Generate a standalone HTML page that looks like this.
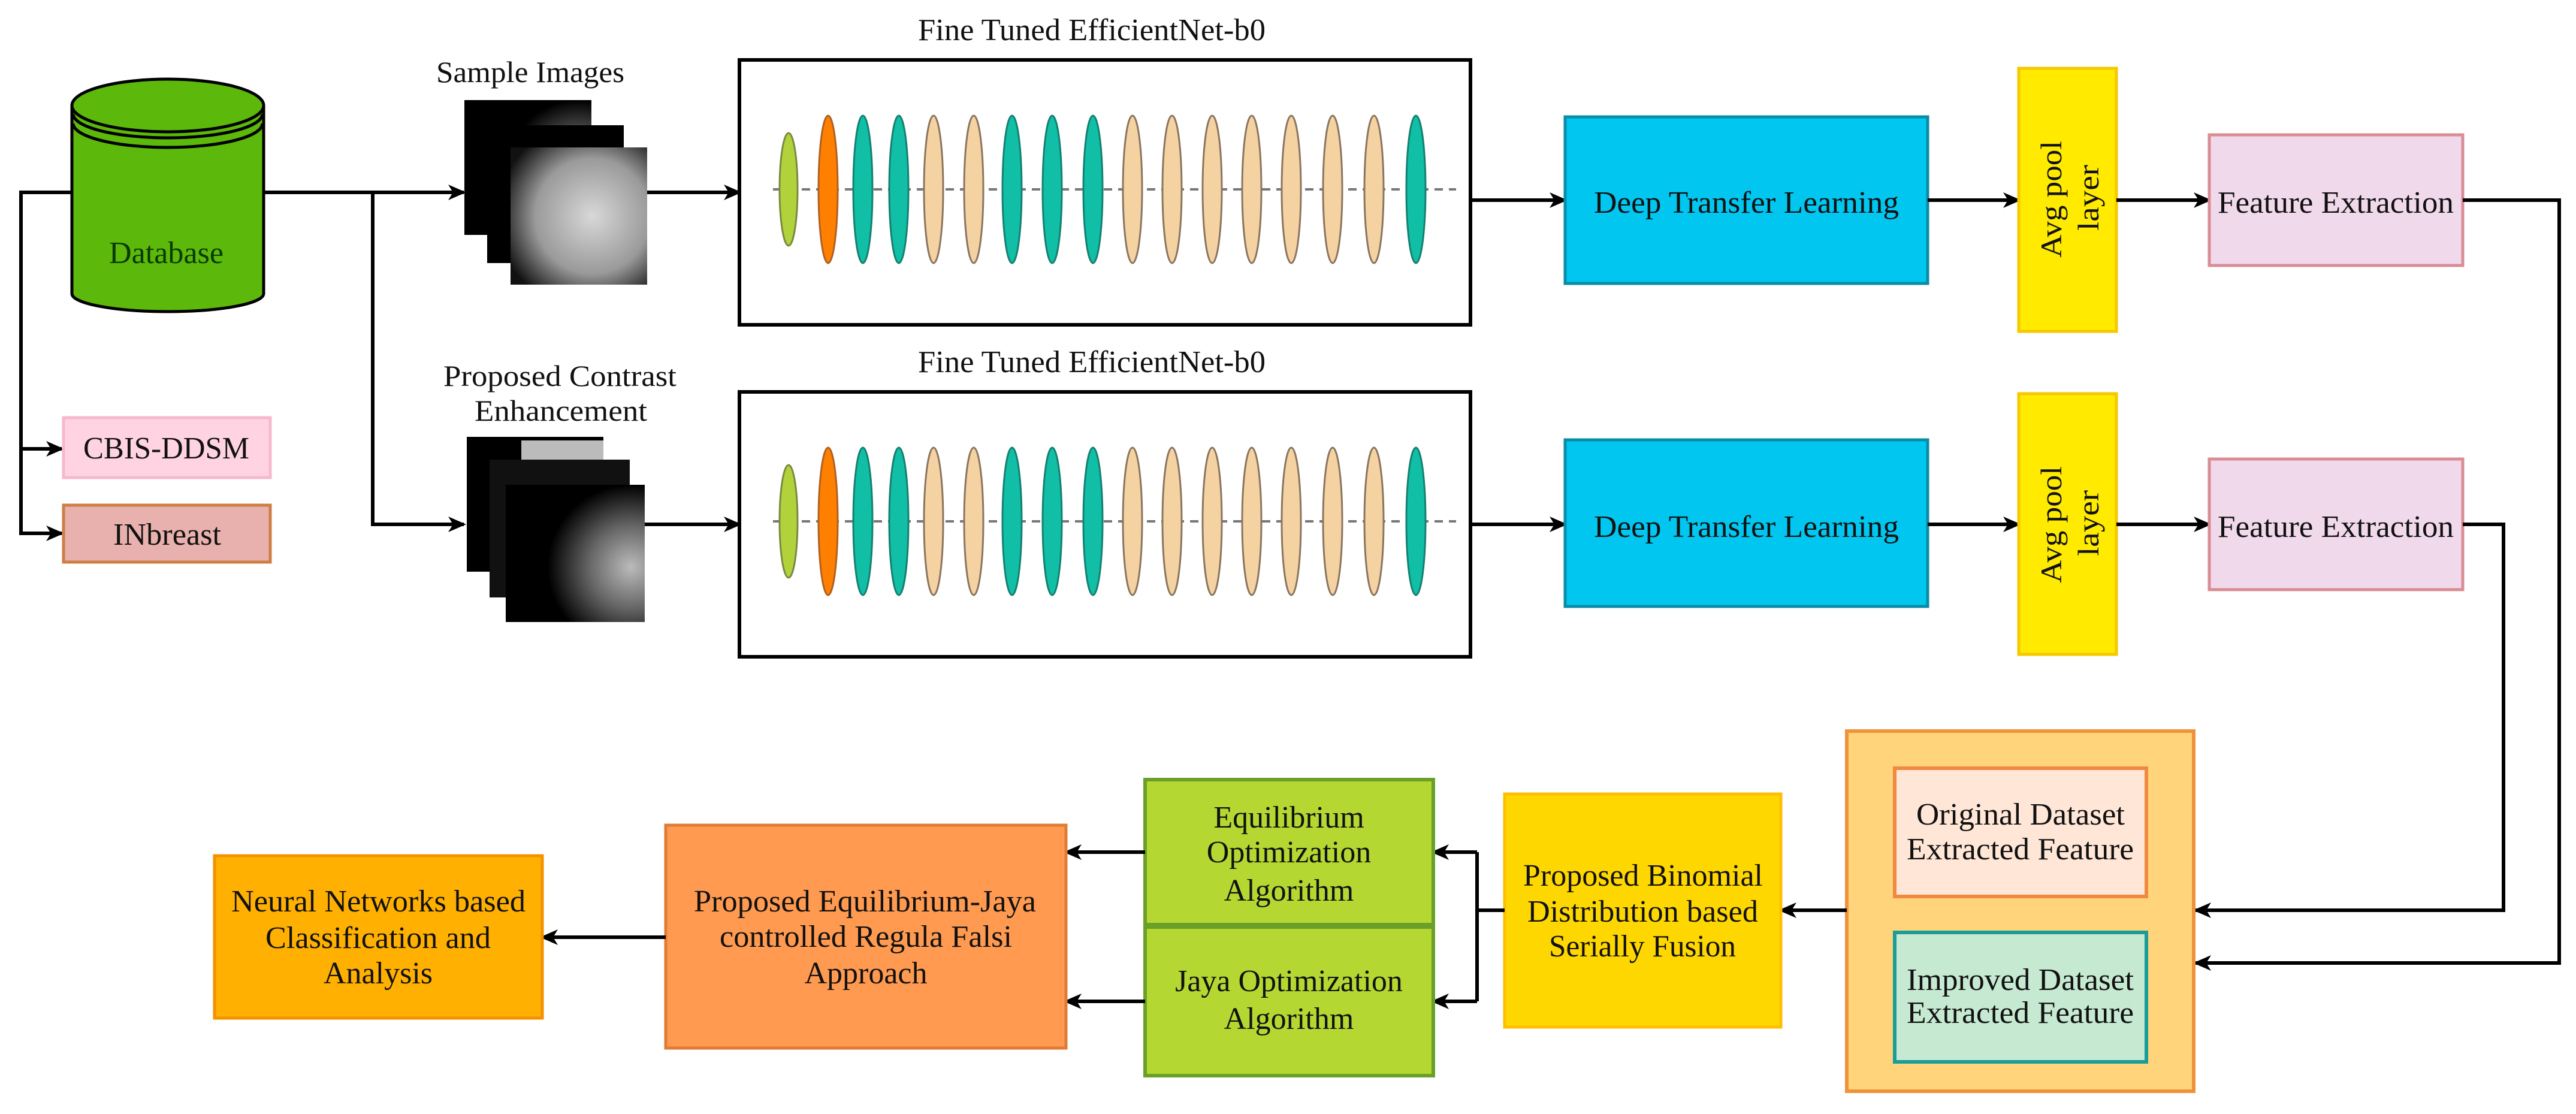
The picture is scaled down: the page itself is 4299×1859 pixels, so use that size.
<!DOCTYPE html>
<html><head><meta charset="utf-8"><style>html,body{margin:0;padding:0;background:#fff}svg{display:block}text{font-family:"Liberation Serif",serif;fill:#111}</style></head>
<body>
<svg width="4299" height="1859" viewBox="0 0 4299 1859" xmlns="http://www.w3.org/2000/svg">
<defs>
<marker id="ar" markerWidth="30" markerHeight="30" refX="26" refY="15" orient="auto" markerUnits="userSpaceOnUse" viewBox="0 0 30 30"><path d="M0,2 L30,15 L0,28 L8,15 Z" fill="#000"/></marker>
<radialGradient id="mg" cx="0.6" cy="0.5" r="0.7"><stop offset="0" stop-color="#d8d8d8"/><stop offset="0.6" stop-color="#9a9a9a"/><stop offset="1" stop-color="#111"/></radialGradient>
<radialGradient id="mg2" cx="0.9" cy="0.6" r="0.6"><stop offset="0" stop-color="#bbb"/><stop offset="0.5" stop-color="#666"/><stop offset="1" stop-color="#000"/></radialGradient>
<g id="net">
<line x1="1290" y1="0" x2="2430" y2="0" stroke="#777" stroke-width="4" stroke-dasharray="14,10"/>
<ellipse cx="1316" cy="0" rx="15" ry="94" fill="#b2d23c" stroke="#7a8a40" stroke-width="3"/>
<ellipse cx="1382" cy="0" rx="16" ry="123" fill="#ff8000" stroke="#b06020" stroke-width="3"/>
<ellipse cx="1440" cy="0" rx="16" ry="123" fill="#10bfa6" stroke="#158070" stroke-width="3"/>
<ellipse cx="1500" cy="0" rx="16" ry="123" fill="#10bfa6" stroke="#158070" stroke-width="3"/>
<ellipse cx="1558" cy="0" rx="16" ry="123" fill="#f5d2a2" stroke="#8a7560" stroke-width="3"/>
<ellipse cx="1625" cy="0" rx="16" ry="123" fill="#f5d2a2" stroke="#8a7560" stroke-width="3"/>
<ellipse cx="1689" cy="0" rx="16" ry="123" fill="#10bfa6" stroke="#158070" stroke-width="3"/>
<ellipse cx="1756" cy="0" rx="16" ry="123" fill="#10bfa6" stroke="#158070" stroke-width="3"/>
<ellipse cx="1824" cy="0" rx="16" ry="123" fill="#10bfa6" stroke="#158070" stroke-width="3"/>
<ellipse cx="1890" cy="0" rx="16" ry="123" fill="#f5d2a2" stroke="#8a7560" stroke-width="3"/>
<ellipse cx="1956" cy="0" rx="16" ry="123" fill="#f5d2a2" stroke="#8a7560" stroke-width="3"/>
<ellipse cx="2023" cy="0" rx="16" ry="123" fill="#f5d2a2" stroke="#8a7560" stroke-width="3"/>
<ellipse cx="2089" cy="0" rx="16" ry="123" fill="#f5d2a2" stroke="#8a7560" stroke-width="3"/>
<ellipse cx="2155" cy="0" rx="16" ry="123" fill="#f5d2a2" stroke="#8a7560" stroke-width="3"/>
<ellipse cx="2224" cy="0" rx="16" ry="123" fill="#f5d2a2" stroke="#8a7560" stroke-width="3"/>
<ellipse cx="2293" cy="0" rx="16" ry="123" fill="#f5d2a2" stroke="#8a7560" stroke-width="3"/>
<ellipse cx="2363" cy="0" rx="16" ry="123" fill="#10bfa6" stroke="#158070" stroke-width="3"/>
</g>
</defs>

<!-- Database cylinder -->
<path d="M120,176 L120,490 A160,30 0 0 0 440,490 L440,176" fill="#5cb80a" stroke="#000" stroke-width="5"/>
<ellipse cx="280" cy="176" rx="160" ry="44" fill="#5cb80a" stroke="#000" stroke-width="5"/>
<path d="M122,190 A158,40 0 0 0 438,190" fill="none" stroke="#000" stroke-width="5"/>
<path d="M122,206 A158,40 0 0 0 438,206" fill="none" stroke="#000" stroke-width="5"/>
<text x="182" y="439" font-size="52" textLength="191" lengthAdjust="spacingAndGlyphs" style="fill:#0a3a00">Database</text>

<!-- left connectors -->
<polyline points="120,321 35,321 35,890 103,890" fill="none" stroke="#000" stroke-width="6" marker-end="url(#ar)"/>
<line x1="35" y1="749" x2="103" y2="749" stroke="#000" stroke-width="6" marker-end="url(#ar)"/>
<rect x="106" y="697" width="345" height="100" fill="#ffd3e2" stroke="#f6b9cc" stroke-width="5"/>
<text x="139" y="765" font-size="52" textLength="277" lengthAdjust="spacingAndGlyphs">CBIS-DDSM</text>
<rect x="106" y="843" width="345" height="95" fill="#e8b1ad" stroke="#cf7d45" stroke-width="5"/>
<text x="189" y="909" font-size="52" textLength="180" lengthAdjust="spacingAndGlyphs">INbreast</text>

<!-- top line and branch -->
<line x1="440" y1="321" x2="774" y2="321" stroke="#000" stroke-width="6" marker-end="url(#ar)"/>
<polyline points="622,321 622,875 774,875" fill="none" stroke="#000" stroke-width="6" marker-end="url(#ar)"/>

<!-- Sample images -->
<text x="728" y="137" font-size="50" textLength="314" lengthAdjust="spacingAndGlyphs">Sample Images</text>
<rect x="775" y="167" width="212" height="225" fill="url(#mg2)"/>
<rect x="813" y="209" width="228" height="230" fill="#000"/>
<rect x="852" y="246" width="228" height="229" fill="url(#mg)"/>

<text x="740" y="644" font-size="50" textLength="389" lengthAdjust="spacingAndGlyphs">Proposed Contrast</text>
<text x="792" y="702" font-size="50" textLength="288" lengthAdjust="spacingAndGlyphs">Enhancement</text>
<rect x="779" y="729" width="228" height="225" fill="#000"/>
<rect x="870" y="735" width="137" height="60" fill="#bbb"/>
<rect x="817" y="767" width="234" height="230" fill="#111"/>
<rect x="844" y="809" width="232" height="229" fill="url(#mg2)"/>

<!-- arrows into nets -->
<line x1="1080" y1="321" x2="1234" y2="321" stroke="#000" stroke-width="6" marker-end="url(#ar)"/>
<line x1="1076" y1="875" x2="1234" y2="875" stroke="#000" stroke-width="6" marker-end="url(#ar)"/>

<!-- EfficientNet boxes -->
<text x="1532" y="67" font-size="52" textLength="580" lengthAdjust="spacingAndGlyphs">Fine Tuned EfficientNet-b0</text>
<rect x="1234" y="100" width="1220" height="442" fill="#fff" stroke="#000" stroke-width="6"/>
<use href="#net" transform="translate(0,316)"/>
<text x="1532" y="621" font-size="52" textLength="580" lengthAdjust="spacingAndGlyphs">Fine Tuned EfficientNet-b0</text>
<rect x="1234" y="654" width="1220" height="442" fill="#fff" stroke="#000" stroke-width="6"/>
<use href="#net" transform="translate(0,870)"/>

<!-- Row 1 right -->
<line x1="2454" y1="334" x2="2612" y2="334" stroke="#000" stroke-width="6" marker-end="url(#ar)"/>
<rect x="2612" y="195" width="605" height="278" fill="#00c6f0" stroke="#0a8ca6" stroke-width="5"/>
<text x="2660" y="355" font-size="52" textLength="509" lengthAdjust="spacingAndGlyphs">Deep Transfer Learning</text>
<line x1="3217" y1="334" x2="3369" y2="334" stroke="#000" stroke-width="6" marker-end="url(#ar)"/>
<rect x="3369" y="114" width="163" height="439" fill="#ffea00" stroke="#f5c800" stroke-width="5"/>
<text transform="translate(3440,430) rotate(-90)" font-size="50" textLength="195" lengthAdjust="spacingAndGlyphs">Avg pool</text>
<text transform="translate(3502,385) rotate(-90)" font-size="50" textLength="110" lengthAdjust="spacingAndGlyphs">layer</text>
<line x1="3532" y1="334" x2="3687" y2="334" stroke="#000" stroke-width="6" marker-end="url(#ar)"/>
<rect x="3687" y="225" width="423" height="218" fill="#f1d9ec" stroke="#d98c93" stroke-width="5"/>
<text x="3701" y="355" font-size="52" textLength="394" lengthAdjust="spacingAndGlyphs">Feature Extraction</text>
<polyline points="4110,334 4271,334 4271,1607 3664,1607" fill="none" stroke="#000" stroke-width="6" marker-end="url(#ar)"/>

<!-- Row 2 right -->
<line x1="2454" y1="875" x2="2612" y2="875" stroke="#000" stroke-width="6" marker-end="url(#ar)"/>
<rect x="2612" y="734" width="605" height="278" fill="#00c6f0" stroke="#0a8ca6" stroke-width="5"/>
<text x="2660" y="896" font-size="52" textLength="509" lengthAdjust="spacingAndGlyphs">Deep Transfer Learning</text>
<line x1="3217" y1="875" x2="3369" y2="875" stroke="#000" stroke-width="6" marker-end="url(#ar)"/>
<rect x="3369" y="657" width="163" height="435" fill="#ffea00" stroke="#f5c800" stroke-width="5"/>
<text transform="translate(3440,973) rotate(-90)" font-size="50" textLength="195" lengthAdjust="spacingAndGlyphs">Avg pool</text>
<text transform="translate(3502,928) rotate(-90)" font-size="50" textLength="110" lengthAdjust="spacingAndGlyphs">layer</text>
<line x1="3532" y1="875" x2="3687" y2="875" stroke="#000" stroke-width="6" marker-end="url(#ar)"/>
<rect x="3687" y="766" width="423" height="218" fill="#f1d9ec" stroke="#d98c93" stroke-width="5"/>
<text x="3701" y="896" font-size="52" textLength="394" lengthAdjust="spacingAndGlyphs">Feature Extraction</text>
<polyline points="4110,875 4178,875 4178,1519 3664,1519" fill="none" stroke="#000" stroke-width="6" marker-end="url(#ar)"/>

<!-- Feature container -->
<rect x="3082" y="1220" width="579" height="601" fill="#ffd47a" stroke="#f0923c" stroke-width="6"/>
<rect x="3162" y="1282" width="420" height="214" fill="#ffe6d6" stroke="#f08a40" stroke-width="6"/>
<text x="3198" y="1376" font-size="52" textLength="348" lengthAdjust="spacingAndGlyphs">Original Dataset</text>
<text x="3182" y="1434" font-size="52" textLength="379" lengthAdjust="spacingAndGlyphs">Extracted Feature</text>
<rect x="3162" y="1556" width="420" height="216" fill="#c6e9d1" stroke="#1a9c9a" stroke-width="6"/>
<text x="3182" y="1652" font-size="52" textLength="379" lengthAdjust="spacingAndGlyphs">Improved Dataset</text>
<text x="3182" y="1707" font-size="52" textLength="379" lengthAdjust="spacingAndGlyphs">Extracted Feature</text>

<!-- Binomial -->
<line x1="3082" y1="1519" x2="2972" y2="1519" stroke="#000" stroke-width="6" marker-end="url(#ar)"/>
<rect x="2511" y="1325" width="461" height="389" fill="#ffd700" stroke="#ffbf00" stroke-width="5"/>
<text x="2542" y="1478" font-size="52" textLength="400" lengthAdjust="spacingAndGlyphs">Proposed Binomial</text>
<text x="2549" y="1538" font-size="52" textLength="385" lengthAdjust="spacingAndGlyphs">Distribution based</text>
<text x="2585" y="1596" font-size="52" textLength="312" lengthAdjust="spacingAndGlyphs">Serially Fusion</text>
<polyline points="2511,1519 2465,1519" fill="none" stroke="#000" stroke-width="6"/>
<polyline points="2465,1422 2465,1671" fill="none" stroke="#000" stroke-width="6"/>
<line x1="2465" y1="1422" x2="2392" y2="1422" stroke="#000" stroke-width="6" marker-end="url(#ar)"/>
<line x1="2465" y1="1671" x2="2392" y2="1671" stroke="#000" stroke-width="6" marker-end="url(#ar)"/>

<!-- Green algorithms -->
<rect x="1911" y="1301" width="481" height="242" fill="#b4d831" stroke="#6a9f2a" stroke-width="6"/>
<rect x="1911" y="1547" width="481" height="248" fill="#b4d831" stroke="#6a9f2a" stroke-width="6"/>
<text x="2151" y="1381" font-size="52" text-anchor="middle">Equilibrium</text>
<text x="2151" y="1439" font-size="52" text-anchor="middle">Optimization</text>
<text x="2151" y="1503" font-size="52" text-anchor="middle">Algorithm</text>
<text x="2151" y="1654" font-size="52" text-anchor="middle">Jaya Optimization</text>
<text x="2151" y="1717" font-size="52" text-anchor="middle">Algorithm</text>
<line x1="1911" y1="1422" x2="1779" y2="1422" stroke="#000" stroke-width="6" marker-end="url(#ar)"/>
<line x1="1911" y1="1671" x2="1779" y2="1671" stroke="#000" stroke-width="6" marker-end="url(#ar)"/>

<!-- Equilibrium-Jaya -->
<rect x="1111" y="1377" width="668" height="372" fill="#ff9a50" stroke="#df7b34" stroke-width="5"/>
<text x="1158" y="1521" font-size="52" textLength="571" lengthAdjust="spacingAndGlyphs">Proposed Equilibrium-Jaya</text>
<text x="1201" y="1580" font-size="52" textLength="488" lengthAdjust="spacingAndGlyphs">controlled Regula Falsi</text>
<text x="1445" y="1641" font-size="52" text-anchor="middle">Approach</text>
<line x1="1111" y1="1564" x2="905" y2="1564" stroke="#000" stroke-width="6" marker-end="url(#ar)"/>

<!-- Neural -->
<rect x="358" y="1428" width="547" height="271" fill="#ffb000" stroke="#f39200" stroke-width="5"/>
<text x="386" y="1521" font-size="52" textLength="491" lengthAdjust="spacingAndGlyphs">Neural Networks based</text>
<text x="443" y="1582" font-size="52" textLength="376" lengthAdjust="spacingAndGlyphs">Classification and</text>
<text x="631" y="1641" font-size="52" text-anchor="middle">Analysis</text>
</svg>
</body></html>
